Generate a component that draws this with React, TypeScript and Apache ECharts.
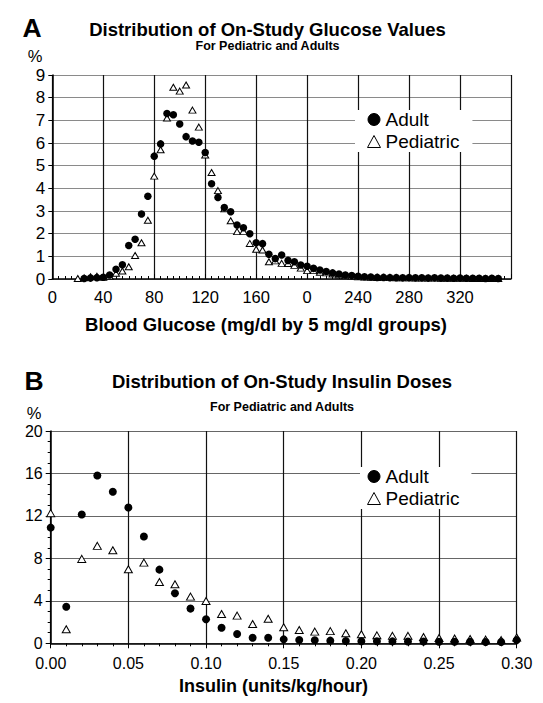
import { useEffect, useRef } from 'react';
import * as echarts from 'echarts';

const FONT = '"Liberation Sans", Arial, Helvetica, sans-serif';

// Panel A: glucose groups (mg/dl) and % of values
const glucoseGroups = [
  20, 25, 30, 35, 40, 45, 50, 55, 60, 65,
  70, 75, 80, 85, 90, 95, 100, 105, 110, 115,
  120, 125, 130, 135, 140, 145, 150, 155, 160, 165,
  170, 175, 180, 185, 190, 195, 200, 205, 210, 215,
  220, 225, 230, 235, 240, 245, 250, 255, 260, 265,
  270, 275, 280, 285, 290, 295, 300, 305, 310, 315,
  320, 325, 330, 335, 340, 345, 350,
];
const adultGlucose = [
  null, 0.02, 0.04, 0.06, 0.08, 0.18, 0.43, 0.63, 1.48, 1.75,
  2.87, 3.65, 5.42, 5.96, 7.3, 7.25, 6.84, 6.28, 6.09, 6.03,
  5.58, 4.2, 3.6, 3.15, 2.97, 2.38, 2.26, 2.0, 1.6, 1.56,
  1.09, 0.9, 1.06, 0.82, 0.76, 0.62, 0.56, 0.47, 0.4, 0.33,
  0.27, 0.22, 0.18, 0.15, 0.12, 0.1, 0.09, 0.07, 0.07, 0.06,
  0.06, 0.05, 0.06, 0.05, 0.05, 0.04, 0.05, 0.04, 0.04, 0.03,
  0.04, 0.03, 0.03, 0.03, 0.02, 0.03, 0.02,
];
const pediatricGlucose = [
  0.02, 0.05, 0.1, 0.12, 0.08, 0.12, 0.25, 0.35, 0.54, 1.04,
  1.6, 2.59, 4.54, 5.7, 7.1, 8.46, 8.29, 8.56, 7.45, 6.7,
  5.47, 4.7, 3.9, 3.1, 2.57, 2.09, 2.1, 1.57, 1.31, 1.28,
  0.76, 0.8, 0.69, 0.68, 0.6, 0.48, 0.37, 0.37, 0.3, 0.27,
  0.22, 0.18, 0.15, 0.12, 0.1, 0.09, 0.08, 0.07, 0.06, 0.06,
  0.05, 0.05, 0.05, 0.04, 0.04, 0.04, 0.04, 0.03, 0.03, 0.03,
  0.03, 0.03, 0.02, 0.02, 0.02, 0.02, 0.02,
];
const glucoseTickLabels = ['0', '40', '80', '120', '160', '0', '240', '280', '320', ''];

// Panel B: insulin doses (units/kg/hour) and % of values
const insulinDoses = [
  0.0, 0.01, 0.02, 0.03, 0.04, 0.05, 0.06, 0.07, 0.08, 0.09,
  0.1, 0.11, 0.12, 0.13, 0.14, 0.15, 0.16, 0.17, 0.18, 0.19,
  0.2, 0.21, 0.22, 0.23, 0.24, 0.25, 0.26, 0.27, 0.28, 0.29, 0.3,
];
const adultInsulin = [
  10.9, 3.45, 12.13, 15.8, 14.27, 12.8, 10.06, 6.94, 4.71, 3.27,
  2.26, 1.47, 0.88, 0.53, 0.53, 0.37, 0.31, 0.28, 0.25, 0.22,
  0.2, 0.2, 0.18, 0.17, 0.17, 0.15, 0.15, 0.14, 0.13, 0.13, 0.3,
];
const pediatricInsulin = [
  12.26, 1.32, 7.95, 9.18, 8.77, 6.98, 7.6, 5.78, 5.56, 4.4,
  3.99, 2.76, 2.61, 1.82, 2.32, 1.51, 1.25, 1.1, 1.15, 0.94,
  0.85, 0.75, 0.7, 0.7, 0.6, 0.5, 0.45, 0.4, 0.35, 0.3, 0.55,
];
const insulinTickLabels = ['0.00', '0.05', '0.10', '0.15', '0.20', '0.25', '0.30'];

const legendNames = ['Adult', 'Pediatric'];

function pairs(xs: number[], ys: (number | null)[]) {
  const out: number[][] = [];
  xs.forEach((x, i) => {
    const y = ys[i];
    if (y !== null && y !== undefined) out.push([x, y]);
  });
  return out;
}

export default function App() {
  const ref = useRef<HTMLDivElement>(null);
  useEffect(() => {
    if (!ref.current) return;
    const chart = echarts.init(ref.current, undefined, { renderer: 'svg' });
    const black = '#000';
    const titleItem = (text: string, x: number, y: number, size: number) => ({
      text,
      left: x,
      top: y,
      textAlign: 'center',
      textVerticalAlign: 'middle',
      padding: 0,
      textStyle: { fontFamily: FONT, fontWeight: 'bold', fontSize: size, color: black },
    });
    const gtext = (text: string, x: number, y: number, size: number, bold: boolean) => ({
      type: 'text',
      x,
      y,
      style: {
        text,
        fill: black,
        font: `${bold ? 'bold ' : ''}${size}px ${FONT}`,
        align: 'center',
        verticalAlign: 'middle',
      },
    });
    const axisLine = { show: true, lineStyle: { color: black, width: 1.5 } };
    const legendBase = {
      data: legendNames,
      orient: 'vertical',
      itemGap: 3,
      itemWidth: 13,
      itemHeight: 12,
      backgroundColor: '#fff',
      selectedMode: false,
      itemStyle: { borderWidth: 1, borderColor: black },
      textStyle: { fontFamily: FONT, fontSize: 19, color: black },
    };
    const option: any = {
      animation: false,
      backgroundColor: '#fff',
      title: [
        titleItem('Distribution of On-Study Glucose Values', 267.5, 29.2, 18.5),
        titleItem('Distribution of On-Study Insulin Doses', 282, 381.5, 18.5),
      ],
      graphic: [
        gtext('A', 32, 27.5, 26.5, true),
        gtext('For Pediatric and Adults', 267.5, 46, 12.5, true),
        gtext('%', 35, 56, 16.5, false),
        gtext('Blood Glucose (mg/dl by 5 mg/dl groups)', 266, 324.5, 18.5, true),
        gtext('B', 34, 380.5, 26.5, true),
        gtext('For Pediatric and Adults', 282, 407, 12.5, true),
        gtext('%', 34, 412.5, 16.5, false),
        gtext('Insulin (units/kg/hour)', 273.5, 685.5, 18, true),
      ],
      legend: [
        { ...legendBase, left: 355, top: 110, padding: [0, 13, 1, 12] },
        { ...legendBase, left: 360, top: 467, padding: [0, 12, 1, 7] },
      ],
      grid: [
        { left: 52.3, top: 75, width: 458.7, height: 204, show: false },
        { left: 50.7, top: 431, width: 466, height: 212.3, show: false },
      ],
      xAxis: [
        {
          type: 'value',
          gridIndex: 0,
          min: 0,
          max: 360,
          interval: 40,
          axisLine,
          axisTick: { show: true, inside: true, length: 5, lineStyle: { color: black } },
          minorTick: { show: true, splitNumber: 8, length: 3, lineStyle: { color: black } },
          axisLabel: {
            fontFamily: FONT,
            fontSize: 16.5,
            color: black,
            margin: 9,
            formatter: (v: number) => glucoseTickLabels[Math.round(v / 40)] ?? '',
          },
          splitLine: { show: true, lineStyle: { color: '#111', width: 1.2 } },
        },
        {
          type: 'value',
          gridIndex: 1,
          min: 0,
          max: 0.3,
          interval: 0.05,
          axisLine,
          axisTick: { show: true, inside: false, length: 5, lineStyle: { color: black } },
          minorTick: { show: true, splitNumber: 5, length: 3, lineStyle: { color: black } },
          axisLabel: {
            fontFamily: FONT,
            fontSize: 16,
            color: black,
            margin: 12,
            formatter: (v: number) => insulinTickLabels[Math.round(v / 0.05)] ?? '',
          },
          splitLine: { show: true, lineStyle: { color: '#111', width: 1.2 } },
        },
      ],
      yAxis: [
        {
          type: 'value',
          gridIndex: 0,
          min: 0,
          max: 9,
          interval: 1,
          axisLine,
          axisTick: { show: true, inside: false, length: 4, lineStyle: { color: black } },
          axisLabel: { fontFamily: FONT, fontSize: 17, color: black, margin: 7 },
          splitLine: { show: true, lineStyle: { color: '#8a8a8a', width: 1.2 } },
        },
        {
          type: 'value',
          gridIndex: 1,
          min: 0,
          max: 20,
          interval: 4,
          axisLine,
          axisTick: { show: true, inside: false, length: 5, lineStyle: { color: black } },
          minorTick: { show: true, splitNumber: 4, length: 3, lineStyle: { color: black } },
          axisLabel: { fontFamily: FONT, fontSize: 16, color: black, margin: 8 },
          splitLine: { show: true, lineStyle: { color: '#666', width: 1.2 } },
        },
      ],
      series: [
        {
          name: 'Pediatric',
          type: 'scatter',
          xAxisIndex: 0,
          yAxisIndex: 0,
          symbol: 'triangle',
          symbolSize: [7, 6],
          itemStyle: { color: '#fff', borderColor: black, borderWidth: 1, opacity: 1 },
          data: pairs(glucoseGroups, pediatricGlucose),
        },
        {
          name: 'Adult',
          type: 'scatter',
          xAxisIndex: 0,
          yAxisIndex: 0,
          symbol: 'circle',
          symbolSize: 7.5,
          itemStyle: { color: black, opacity: 1 },
          data: pairs(glucoseGroups, adultGlucose),
        },
        {
          name: 'Pediatric',
          type: 'scatter',
          xAxisIndex: 1,
          yAxisIndex: 1,
          symbol: 'triangle',
          symbolSize: [8, 7],
          itemStyle: { color: '#fff', borderColor: black, borderWidth: 1, opacity: 1 },
          data: pairs(insulinDoses, pediatricInsulin),
        },
        {
          name: 'Adult',
          type: 'scatter',
          xAxisIndex: 1,
          yAxisIndex: 1,
          symbol: 'circle',
          symbolSize: 8,
          itemStyle: { color: black, opacity: 1 },
          data: pairs(insulinDoses, adultInsulin),
        },
      ],
    };
    chart.setOption(option);
    return () => chart.dispose();
  }, []);
  return (
    <div
      ref={ref}
      style={{ position: 'absolute', left: 0, top: 0, width: 543, height: 703, background: '#fff' }}
    />
  );
}
